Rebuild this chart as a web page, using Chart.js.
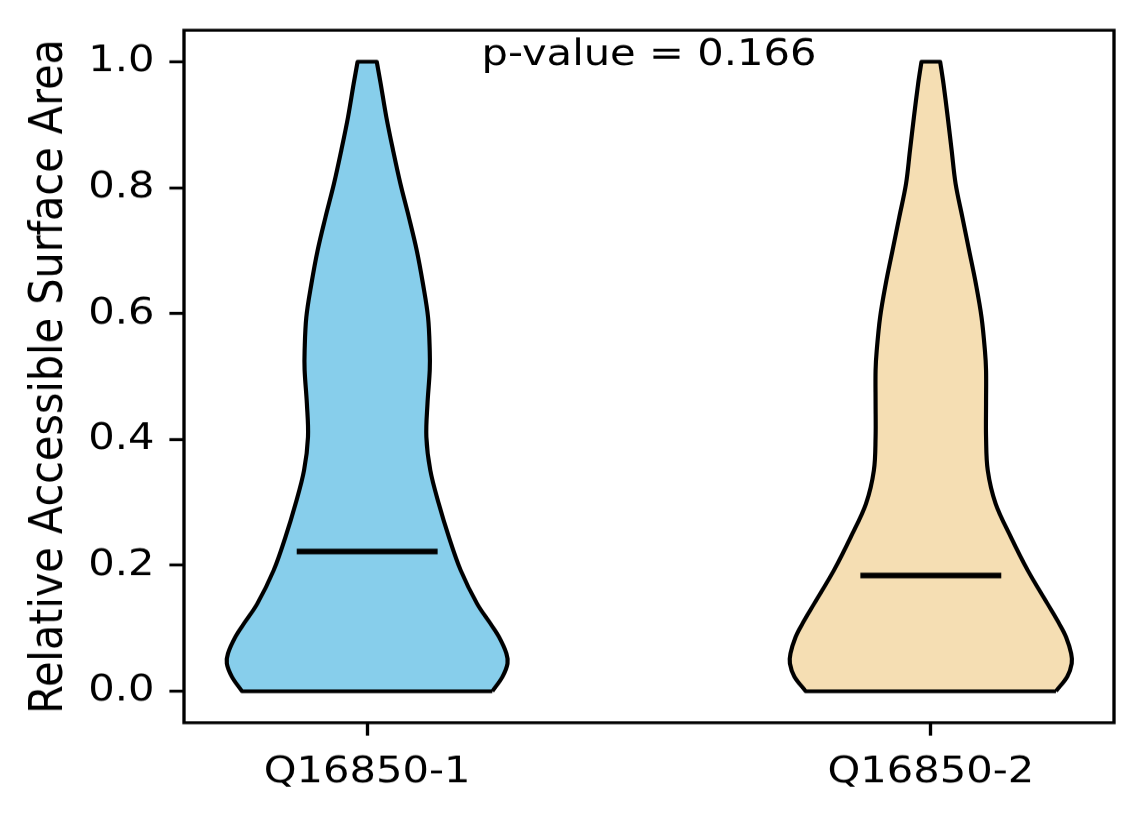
<!DOCTYPE html>
<html>
<head>
<meta charset="utf-8">
<script src="https://cdn.jsdelivr.net/npm/chart.js@4.4.1/dist/chart.umd.min.js"></script>
<style>
html, body { margin: 0; padding: 0; background: #fff; overflow: hidden; }
#wrap { width: 1144px; height: 824px; overflow: hidden; }
canvas { display: block; transform: scaleY(0.8889); transform-origin: 0 0; }
</style>
</head>
<body>
<div id="wrap"><canvas id="c" width="1144" height="927"></canvas></div>
<script>
// ---- data ----
const categories = ['Q16850-1', 'Q16850-2'];
const positions = [1, 2];
// value levels at which the violin outline was read
const levels = [0, 0.023, 0.044, 0.060, 0.086, 0.107, 0.139, 0.192, 0.245, 0.298, 0.351, 0.404,
                0.457, 0.510, 0.541, 0.594, 0.647, 0.700, 0.753, 0.806, 0.859, 0.912, 0.965, 1.0];
// half-widths (scaled density) of each violin at those levels
const halfWidth1 = [0.222, 0.240, 0.249, 0.247, 0.234, 0.219, 0.195, 0.166, 0.145, 0.127, 0.112, 0.105,
                    0.107, 0.111, 0.111, 0.108, 0.099, 0.088, 0.074, 0.059, 0.046, 0.034, 0.024, 0.017];
const halfWidth2 = [0.222, 0.242, 0.250, 0.249, 0.240, 0.228, 0.207, 0.172, 0.142, 0.115, 0.101, 0.098,
                    0.098, 0.098, 0.096, 0.090, 0.080, 0.068, 0.056, 0.044, 0.037, 0.030, 0.0225, 0.0166];
const medians = [0.222, 0.184];
const medianHalfLength = 0.125;
const yTicks = [0, 0.2, 0.4, 0.6, 0.8, 1.0];
const yTitle = 'Relative Accessible Surface Area';
const pValueText = 'p-value = 0.166';
const fillColors = ['#87CEEB', '#F5DEB3'];

// ---- build outlines from the arrays ----
function outline(pos, hw) {
  const right = levels.map((y, i) => ({ x: pos + hw[i], y: y }));
  const left = levels.map((y, i) => ({ x: pos - hw[i], y: y })).reverse();
  const pts = [];
  right.forEach(p => pts.push(p));
  pts.push(Object.assign({}, right[right.length - 1]));
  left.forEach((p, i) => { pts.push(p); if (i === 0) pts.push(Object.assign({}, p)); });
  pts.push(Object.assign({}, left[left.length - 1]));
  pts.push(Object.assign({}, right[0]));
  return pts;
}

const FONT = 'DejaVu Sans';
const FS = 41.67;
const FS_TITLE = 46.5;
const halfWidths = [halfWidth1, halfWidth2];

const datasets = [];
positions.forEach((pos, i) => {
  datasets.push({
    label: categories[i] + ' median',
    data: [{ x: pos - medianHalfLength, y: medians[i] }, { x: pos + medianHalfLength, y: medians[i] }],
    showLine: true, borderColor: '#000', borderWidth: 6.25, borderCapStyle: 'butt',
    pointRadius: 0, fill: false, order: 0
  });
});
positions.forEach((pos, i) => {
  datasets.push({
    label: categories[i],
    data: outline(pos, halfWidths[i]),
    showLine: true, tension: 0.35, borderColor: '#000', borderWidth: 4.17,
    borderJoinStyle: 'round', backgroundColor: fillColors[i], fill: 'shape',
    pointRadius: 0, order: 1
  });
});

const frameText = {
  id: 'frameText',
  afterDatasetsDraw(chart) {
    const { ctx, chartArea: a } = chart;
    ctx.save();
    ctx.lineWidth = 3.33;
    ctx.strokeStyle = '#000';
    ctx.strokeRect(a.left, a.top, a.right - a.left, a.bottom - a.top);
    ctx.font = FS + 'px "' + FONT + '"';
    ctx.fillStyle = '#000';
    ctx.textAlign = 'center';
    ctx.textBaseline = 'alphabetic';
    ctx.fillText(pValueText, (a.left + a.right) / 2, a.top + 0.05 * (a.bottom - a.top));
    ctx.restore();
  }
};

const gridOpts = { display: true, drawOnChartArea: false, drawTicks: true, tickLength: 14.6,
                   tickWidth: 3.33, tickColor: '#000' };

new Chart(document.getElementById('c'), {
  type: 'scatter',
  data: { datasets: datasets },
  options: {
    responsive: false,
    devicePixelRatio: 1,
    animation: false,
    layout: { padding: { top: 34, right: 30, left: 0, bottom: 0 } },
    plugins: { legend: { display: false }, tooltip: { enabled: false } },
    scales: {
      x: {
        type: 'linear', min: 0.675, max: 2.325,
        afterBuildTicks: s => { s.ticks = positions.map(p => ({ value: p })); },
        afterFit: s => { s.height = 114; s.paddingLeft = 0; s.paddingRight = 0; },
        ticks: {
          callback: v => { const k = positions.indexOf(v); return k >= 0 ? categories[k] : ''; },
          font: { family: FONT, size: FS }, color: '#000', padding: 17, maxRotation: 0, autoSkip: false
        },
        grid: gridOpts,
        border: { display: false }
      },
      y: {
        type: 'linear', min: -0.05, max: 1.05,
        afterBuildTicks: s => { s.ticks = yTicks.map(v => ({ value: v })); },
        afterFit: s => { s.width = 184; s.paddingTop = 0; s.paddingBottom = 0; },
        ticks: {
          callback: v => Number(v).toFixed(1),
          font: { family: FONT, size: FS }, color: '#000', padding: 15, autoSkip: false
        },
        grid: gridOpts,
        border: { display: false },
        title: { display: true, text: yTitle, color: '#000',
                 font: { family: FONT, size: FS_TITLE }, padding: { top: 22.5, bottom: 0 } }
      }
    }
  },
  plugins: [frameText]
});
</script>
</body>
</html>
